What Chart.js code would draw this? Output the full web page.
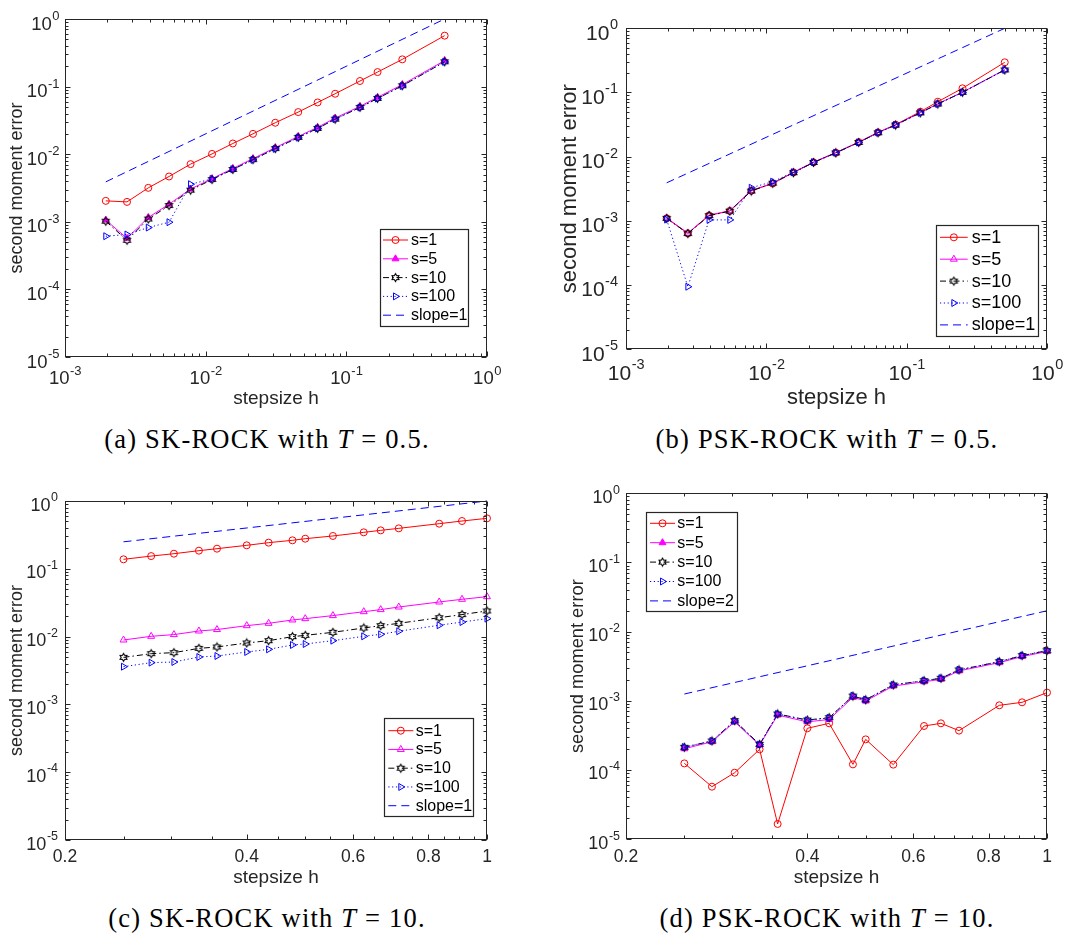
<!DOCTYPE html>
<html><head><meta charset="utf-8">
<script src="https://cdn.jsdelivr.net/npm/chart.js@4.4.1/dist/chart.umd.min.js"></script>
<style>
html,body{margin:0;padding:0;background:#fff;}
#fig{position:relative;width:1071px;height:933px;overflow:hidden;background:#fff;}
canvas{position:absolute;}
.cap{position:absolute;width:500px;text-align:center;font-family:"Liberation Serif","Times New Roman",serif;font-size:26.5px;line-height:26px;color:#000;letter-spacing:1.2px;white-space:nowrap;}
</style></head><body>
<div id="fig">
<canvas id="cA" width="535" height="420" style="left:0px;top:0px"></canvas>
<canvas id="cB" width="531" height="420" style="left:540px;top:0px"></canvas>
<canvas id="cC" width="535" height="440" style="left:0px;top:460px"></canvas>
<canvas id="cD" width="531" height="440" style="left:540px;top:460px"></canvas>
<div class="cap" style="left:17px;top:426px">(a) SK-ROCK with <i>T</i> = 0.5.</div>
<div class="cap" style="left:577px;top:426px">(b) PSK-ROCK with <i>T</i> = 0.5.</div>
<div class="cap" style="left:17px;top:905px">(c) SK-ROCK with <i>T</i> = 10.</div>
<div class="cap" style="left:577px;top:905px">(d) PSK-ROCK with <i>T</i> = 10.</div>
</div>
<script>
// ---------------- data ----------------
const H_T05 = [0.00195,0.00276,0.00391,0.00549,0.00781,0.0111,0.0156,0.0217,0.03125,0.0455,0.0625,0.0833,0.125,0.1667,0.25,0.5];
const H_T10 = [0.25,0.2778,0.303,0.3333,0.3571,0.4,0.4348,0.4762,0.5,0.5556,0.625,0.6667,0.7143,0.8333,0.9091,1.0];

const A_S1   = [2.04e-3,1.97e-3,3.18e-3,4.68e-3,7.13e-3,1.01e-2,1.44e-2,2.0e-2,2.92e-2,4.2e-2,5.83e-2,7.84e-2,0.121,0.164,0.253,0.567];
const A_S5   = [1.06e-3,5.7e-4,1.16e-3,1.82e-3,3.05e-3,4.35e-3,6.15e-3,8.6e-3,1.25e-2,1.83e-2,2.5e-2,3.42e-2,5.1e-2,6.95e-2,0.107,0.243];
const A_S10  = [1.02e-3,5.33e-4,1.10e-3,1.74e-3,2.94e-3,4.22e-3,5.94e-3,8.3e-3,1.21e-2,1.77e-2,2.41e-2,3.3e-2,4.92e-2,6.69e-2,0.103,0.233];
const A_S100 = [6.12e-4,6.49e-4,8.22e-4,9.86e-4,3.6e-3,4.3e-3,6.0e-3,8.25e-3,1.2e-2,1.76e-2,2.4e-2,3.3e-2,4.9e-2,6.65e-2,0.102,0.232];
const A_SLOPE_H = [0.00195,0.5];
const A_SLOPE   = [0.0039,1.0];

const B_S1   = [1.09e-3,6.36e-4,1.21e-3,1.42e-3,2.94e-3,3.8e-3,5.68e-3,8.13e-3,1.15e-2,1.68e-2,2.38e-2,3.15e-2,5.0e-2,7.17e-2,0.116,0.295];
const B_S5   = [1.1e-3,6.4e-4,1.22e-3,1.43e-3,2.95e-3,3.85e-3,5.65e-3,8.15e-3,1.15e-2,1.67e-2,2.37e-2,3.12e-2,4.85e-2,6.65e-2,0.101,0.226];
const B_S10  = [1.09e-3,6.3e-4,1.2e-3,1.41e-3,2.9e-3,3.85e-3,5.6e-3,8.1e-3,1.14e-2,1.66e-2,2.35e-2,3.1e-2,4.8e-2,6.6e-2,0.1005,0.224];
const B_S100 = [1.04e-3,9.35e-5,1.03e-3,1.03e-3,3.27e-3,4.06e-3,5.7e-3,8.2e-3,1.15e-2,1.66e-2,2.36e-2,3.1e-2,4.8e-2,6.6e-2,0.1,0.224];
const B_SLOPE_H = [0.00195,0.5];
const B_SLOPE   = [0.0039,1.0];

const C_S1   = [0.138,0.154,0.167,0.185,0.198,0.222,0.243,0.263,0.278,0.305,0.345,0.369,0.395,0.463,0.507,0.555];
const C_S5   = [0.00891,0.0101,0.0107,0.0121,0.0127,0.0145,0.0157,0.0176,0.0184,0.0204,0.0233,0.025,0.0273,0.0324,0.0355,0.0388];
const C_S10  = [0.00494,0.0056,0.0058,0.00671,0.00703,0.00805,0.00871,0.00998,0.01044,0.01156,0.0134,0.0145,0.0157,0.019,0.0211,0.0239];
const C_S100 = [0.0036,0.00413,0.00422,0.005,0.00517,0.00593,0.00649,0.00752,0.00778,0.00871,0.0101,0.0108,0.012,0.0147,0.0164,0.0184];
const C_SLOPE_H = [0.25,1.0];
const C_SLOPE   = [0.25,1.0];

const D_S1   = [1.24e-4,5.71e-5,9.1e-5,1.98e-4,1.65e-5,3.99e-4,4.71e-4,1.2e-4,2.76e-4,1.19e-4,4.31e-4,4.71e-4,3.69e-4,8.58e-4,9.48e-4,1.31e-3];
const D_S5   = [2.02e-4,2.55e-4,4.95e-4,2.28e-4,6.2e-4,4.95e-4,5.35e-4,1.12e-3,0.99e-3,1.63e-3,1.88e-3,2.04e-3,2.7e-3,3.55e-3,4.35e-3,5.15e-3];
const D_S10  = [2.12e-4,2.62e-4,5.15e-4,2.34e-4,6.43e-4,5.26e-4,5.69e-4,1.17e-3,1.03e-3,1.69e-3,1.95e-3,2.11e-3,2.79e-3,3.67e-3,4.49e-3,5.3e-3];
const D_S100 = [2.14e-4,2.62e-4,5.1e-4,2.32e-4,6.45e-4,5.2e-4,5.65e-4,1.18e-3,1.04e-3,1.7e-3,1.96e-3,2.12e-3,2.8e-3,3.68e-3,4.5e-3,5.35e-3];
const D_SLOPE_H = [0.25,1.0];
const D_SLOPE   = [0.00125,0.02];

const SERIES_LABELS = ['s=1','s=5','s=10','s=100'];
const LOG_X_TICKS = [0.001,0.01,0.1,1];
const LOG_X_EXP   = ['-3','-2','-1','0'];
const Y_TICKS = [1e-5,1e-4,1e-3,1e-2,1e-1,1];
const Y_EXP   = ['-5','-4','-3','-2','-1','0'];
const LIN_X_TICKS  = [0.2,0.4,0.6,0.8,1];
const LIN_X_LABELS = ['0.2','0.4','0.6','0.8','1'];
const LIN_X_MINOR  = [0.25,0.3,0.35,0.45,0.5,0.55,0.65,0.7,0.75,0.85,0.9,0.95];

// ---------------- styles ----------------
const FONT = '"Liberation Sans", Arial, Helvetica, sans-serif';
const AXIS_COLOR = '#262626';

function makeHex(color){
  const c = document.createElement('canvas'); c.width = 11; c.height = 11;
  const g = c.getContext('2d'); g.strokeStyle = color; g.lineWidth = 1.1;
  const cx = 5.5, cy = 5.5, R = 4, r = R/Math.sqrt(3);
  g.beginPath();
  for (let k = 0; k < 12; k++) {
    const a = -Math.PI/2 + k*Math.PI/6, rr = (k%2) ? r : R;
    const px = cx + rr*Math.cos(a), py = cy + rr*Math.sin(a);
    if (k) g.lineTo(px,py); else g.moveTo(px,py);
  }
  g.closePath(); g.stroke();
  return c;
}
const HEX = makeHex('#000000');

const STYLES = [
  {color:'#ff0000', dash:[], marker:'circle', r:3.5, rot:0},
  {color:'#ff00ff', dash:[], marker:'triangle', r:4, rot:0},
  {color:'#000000', dash:[6,3,1.5,3], marker:'hex', r:3.5, rot:0},
  {color:'#0000ff', dash:[1.2,2.6], marker:'triangle', r:4, rot:90}
];
const SLOPE_STYLE = {color:'#0000ff', dash:[8,5]};

function minorLog(e0, e1){
  const out = [];
  for (let e = e0; e < e1; e++) for (let k = 2; k <= 9; k++) out.push(k*Math.pow(10,e));
  return out;
}

function drawMarker(ctx, st, x, y, filled){
  ctx.save();
  ctx.setLineDash([]);
  ctx.strokeStyle = st.color; ctx.fillStyle = st.color; ctx.lineWidth = 1;
  if (st.marker === 'circle') {
    ctx.beginPath(); ctx.arc(x, y, st.r, 0, Math.PI*2); ctx.stroke();
  } else if (st.marker === 'hex') {
    ctx.drawImage(HEX, x - HEX.width/2, y - HEX.height/2);
  } else {
    let rad = st.rot*Math.PI/180;
    ctx.beginPath();
    for (let k = 0; k < 3; k++) {
      const px = x + Math.sin(rad)*st.r, py = y - Math.cos(rad)*st.r;
      if (k) ctx.lineTo(px,py); else ctx.moveTo(px,py);
      rad += 2*Math.PI/3;
    }
    ctx.closePath();
    if (filled) ctx.fill();
    ctx.stroke();
  }
  ctx.restore();
}

function makePlugin(p){
  return {
    id: 'matlabAxes_' + p.id,
    afterDatasetsDraw(chart){
      const ctx = chart.ctx, a = chart.chartArea, xs = chart.scales.x, ys = chart.scales.y;
      ctx.save();
      ctx.strokeStyle = AXIS_COLOR; ctx.lineWidth = 1; ctx.setLineDash([]);
      const L = Math.round(a.left)+0.5, R = Math.round(a.right)-0.5, T = Math.round(a.top)+0.5, B = Math.round(a.bottom)-0.5;
      ctx.strokeRect(L, T, R-L, B-T);
      const MAJ = 5, MIN = 3;
      const xTick = (v, len) => { const px = Math.round(xs.getPixelForValue(v))+0.5;
        ctx.beginPath(); ctx.moveTo(px,B); ctx.lineTo(px,B-len); ctx.moveTo(px,T); ctx.lineTo(px,T+len); ctx.stroke(); };
      const yTick = (v, len) => { const py = Math.round(ys.getPixelForValue(v))+0.5;
        ctx.beginPath(); ctx.moveTo(L,py); ctx.lineTo(L+len,py); ctx.moveTo(R,py); ctx.lineTo(R-len,py); ctx.stroke(); };
      p.xMajor.forEach(v => xTick(v, MAJ));
      p.xMinor.forEach(v => xTick(v, MIN));
      Y_TICKS.forEach(v => yTick(v, MAJ));
      minorLog(-5, 0).forEach(v => yTick(v, MIN));
      ctx.restore();
    },
    afterDraw(chart){
      const ctx = chart.ctx, a = chart.chartArea, xs = chart.scales.x, ys = chart.scales.y;
      ctx.save();
      ctx.fillStyle = AXIS_COLOR; ctx.textAlign = 'left'; ctx.textBaseline = 'alphabetic';
      const baseFont = s => s + 'px ' + FONT;
      const xl = p.xLab;
      if (p.xLog) {
        LOG_X_TICKS.forEach((v, i) => {
          const px = xs.getPixelForValue(v);
          ctx.font = baseFont(xl.size); const wb = ctx.measureText('10').width;
          ctx.font = baseFont(xl.exp); const we = ctx.measureText(LOG_X_EXP[i]).width;
          const x0 = px - (wb + we)/2;
          ctx.font = baseFont(xl.size); ctx.fillText('10', x0, a.bottom + xl.dy);
          ctx.font = baseFont(xl.exp); ctx.fillText(LOG_X_EXP[i], x0 + wb + 0.5, a.bottom + xl.edy);
        });
      } else {
        ctx.font = baseFont(xl.size); ctx.textAlign = 'center';
        LIN_X_TICKS.forEach((v, i) => ctx.fillText(LIN_X_LABELS[i], xs.getPixelForValue(v), a.bottom + xl.dy));
        ctx.textAlign = 'left';
      }
      const yl = p.yLab;
      Y_TICKS.forEach((v, i) => {
        const py = ys.getPixelForValue(v);
        ctx.font = baseFont(yl.size); const wb = ctx.measureText('10').width;
        ctx.font = baseFont(yl.exp); const we = ctx.measureText(Y_EXP[i]).width;
        const x0 = a.left - yl.gap - we - wb - 0.5;
        ctx.font = baseFont(yl.size); ctx.fillText('10', x0, py + yl.dy);
        ctx.font = baseFont(yl.exp); ctx.fillText(Y_EXP[i], x0 + wb + 0.5, py + yl.edy);
      });
      const lg = p.legend;
      ctx.fillStyle = '#ffffff';
      ctx.fillRect(lg.x, lg.y, lg.w, lg.h);
      ctx.strokeStyle = AXIS_COLOR; ctx.lineWidth = 1.2; ctx.setLineDash([]);
      ctx.strokeRect(Math.round(lg.x)+0.5, Math.round(lg.y)+0.5, Math.round(lg.w), Math.round(lg.h));
      const ds = chart.data.datasets;
      ds.forEach((d, i) => {
        const y = lg.y + lg.first + i*lg.row;
        const st = i < 4 ? STYLES[i] : SLOPE_STYLE;
        ctx.save();
        ctx.strokeStyle = st.color; ctx.lineWidth = 1; ctx.setLineDash(st.dash);
        ctx.beginPath(); ctx.moveTo(lg.x + lg.l0, y); ctx.lineTo(lg.x + lg.l1, y); ctx.stroke();
        ctx.restore();
        if (i < 4) drawMarker(ctx, st, lg.x + (lg.l0 + lg.l1)/2, y, i === 1 && p.filledTri);
        ctx.fillStyle = '#000000'; ctx.font = baseFont(lg.font); ctx.textBaseline = 'middle';
        ctx.fillText(d.label, lg.x + lg.tx, y + 0.5);
        ctx.textBaseline = 'alphabetic';
      });
      ctx.restore();
    }
  };
}

function buildPanel(p){
  const canvas = document.getElementById(p.id);
  const W = canvas.width, H = canvas.height;
  const datasets = p.series.map((ys, i) => {
    const st = STYLES[i];
    return {
      label: SERIES_LABELS[i],
      data: p.h.map((h, j) => ({x: h, y: ys[j]})),
      borderColor: st.color, borderWidth: 1, borderDash: st.dash,
      pointStyle: st.marker === 'hex' ? HEX : st.marker,
      pointRotation: st.rot,
      pointRadius: st.r, pointHoverRadius: st.r,
      pointBorderColor: st.color, pointBorderWidth: 1,
      pointBackgroundColor: (i === 1 && p.filledTri) ? st.color : 'rgba(0,0,0,0)',
      backgroundColor: 'rgba(0,0,0,0)', fill: false, tension: 0, clip: false,
      order: 10 - i
    };
  });
  datasets.push({
    label: p.slopeLabel,
    data: p.slopeH.map((h, j) => ({x: h, y: p.slopeY[j]})),
    borderColor: SLOPE_STYLE.color, borderWidth: 1, borderDash: SLOPE_STYLE.dash,
    pointRadius: 0, pointHoverRadius: 0, fill: false, tension: 0, clip: false, order: 1
  });
  new Chart(canvas, {
    type: 'line',
    data: {datasets},
    options: {
      responsive: false, animation: false, devicePixelRatio: 1, events: [],
      layout: {padding: {left: 0, top: p.area.top, right: W - p.area.right, bottom: 0}},
      plugins: {legend: {display: false}, tooltip: {enabled: false}, title: {display: false}},
      scales: {
        x: {
          type: 'logarithmic', min: p.xMin, max: p.xMax, position: 'bottom',
          ticks: {display: false}, grid: {display: false}, border: {display: false},
          title: {display: true, text: 'stepsize h', color: AXIS_COLOR,
                  font: {family: FONT, size: p.xTitleSize}, padding: {top: 0, bottom: p.xTitlePad}},
          afterFit: s => { s.height = H - p.area.bottom; }
        },
        y: {
          type: 'logarithmic', min: 1e-5, max: 1, position: 'left',
          ticks: {display: false}, grid: {display: false}, border: {display: false},
          title: {display: true, text: 'second moment error', color: AXIS_COLOR,
                  font: {family: FONT, size: p.yTitleSize}, padding: {top: p.yTitlePad, bottom: 0}},
          afterFit: s => { s.width = p.area.left; }
        }
      }
    },
    plugins: [makePlugin(p)]
  });
}

buildPanel({
  id: 'cA', h: H_T05, series: [A_S1, A_S5, A_S10, A_S100], slopeH: A_SLOPE_H, slopeY: A_SLOPE, slopeLabel: 'slope=1',
  xMin: 0.001, xMax: 1, xLog: true, xMajor: LOG_X_TICKS, xMinor: minorLog(-3, 0), filledTri: true,
  area: {left: 65, top: 19, right: 487, bottom: 357},
  xTitleSize: 19, yTitleSize: 18, xTitlePad: 9.6, yTitlePad: 6.7,
  xLab: {size: 18.5, exp: 13, dy: 26.5, edy: 18},
  yLab: {size: 18.5, exp: 13, gap: 5.5, dy: 10.5, edy: 1},
  legend: {x: 380, y: 229.3, w: 88.3, h: 96.7, first: 10.7, row: 18.8, l0: 3, l1: 28, tx: 31, font: 16}
});
buildPanel({
  id: 'cB', h: H_T05, series: [B_S1, B_S5, B_S10, B_S100], slopeH: B_SLOPE_H, slopeY: B_SLOPE, slopeLabel: 'slope=1',
  xMin: 0.001, xMax: 1, xLog: true, xMajor: LOG_X_TICKS, xMinor: minorLog(-3, 0), filledTri: false,
  area: {left: 86, top: 28.3, right: 507, bottom: 349},
  xTitleSize: 22, yTitleSize: 22, xTitlePad: 8.8, yTitlePad: 16.8,
  xLab: {size: 21, exp: 14.5, dy: 31, edy: 20},
  yLab: {size: 21, exp: 14.5, gap: 8, dy: 11.5, edy: 1},
  legend: {x: 395.7, y: 225.3, w: 102, h: 111.4, first: 12, row: 21.9, l0: 4.3, l1: 32, tx: 36, font: 18}
});
buildPanel({
  id: 'cC', h: H_T10, series: [C_S1, C_S5, C_S10, C_S100], slopeH: C_SLOPE_H, slopeY: C_SLOPE, slopeLabel: 'slope=1',
  xMin: 0.2, xMax: 1, xLog: false, xMajor: LIN_X_TICKS, xMinor: LIN_X_MINOR, filledTri: false,
  area: {left: 65, top: 41, right: 487, bottom: 380},
  xTitleSize: 19, yTitleSize: 18, xTitlePad: 10.6, yTitlePad: 5.9,
  xLab: {size: 17.5, dy: 22},
  yLab: {size: 18, exp: 12.5, gap: 7, dy: 9.5, edy: 0},
  legend: {x: 384.3, y: 258.3, w: 89, h: 97.7, first: 12.4, row: 18.75, l0: 4, l1: 29, tx: 31.4, font: 16}
});
buildPanel({
  id: 'cD', h: H_T10, series: [D_S1, D_S5, D_S10, D_S100], slopeH: D_SLOPE_H, slopeY: D_SLOPE, slopeLabel: 'slope=2',
  xMin: 0.2, xMax: 1, xLog: false, xMajor: LIN_X_TICKS, xMinor: LIN_X_MINOR, filledTri: true,
  area: {left: 86, top: 33.3, right: 507, bottom: 379},
  xTitleSize: 19, yTitleSize: 18.3, xTitlePad: 10.6, yTitlePad: 26.5,
  xLab: {size: 17.5, dy: 23},
  yLab: {size: 18, exp: 12.5, gap: 6, dy: 9.5, edy: 0.5},
  legend: {x: 106, y: 51.7, w: 90.7, h: 99.3, first: 11.6, row: 19.4, l0: 4, l1: 29, tx: 31.3, font: 16}
});
</script>
</body></html>
